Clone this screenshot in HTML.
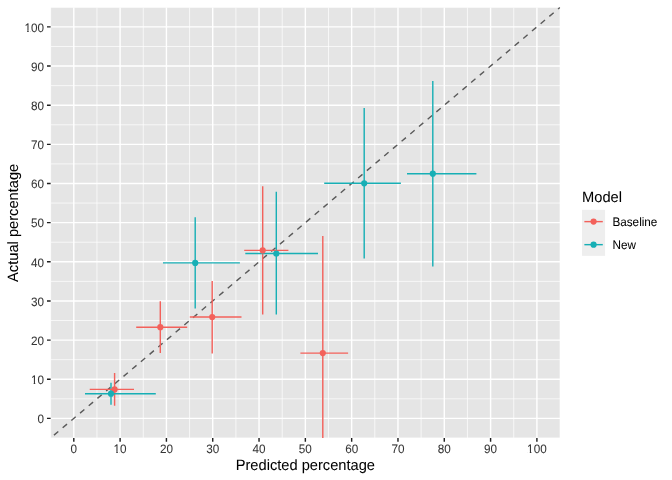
<!DOCTYPE html><html><head><meta charset="utf-8"><style>html,body{margin:0;padding:0;background:#fff;}svg{display:block;will-change:transform;}text{font-family:"Liberation Sans",sans-serif;text-rendering:geometricPrecision;}</style></head><body>
<svg width="672" height="480" viewBox="0 0 672 480">
<rect x="0" y="0" width="672" height="480" fill="#FFFFFF"/>
<defs><clipPath id="pc"><rect x="50.64" y="7.32" width="509.41" height="430.65"/></clipPath></defs>
<g clip-path="url(#pc)">
<rect x="50.64" y="7.32" width="509.41" height="430.65" fill="#E5E5E5"/>
<path d="M50.64 437.97H560.05M50.64 7.32V437.97M50.64 398.82H560.05M96.95 7.32V437.97M50.64 359.67H560.05M143.26 7.32V437.97M50.64 320.52H560.05M189.57 7.32V437.97M50.64 281.38H560.05M235.88 7.32V437.97M50.64 242.22H560.05M282.19 7.32V437.97M50.64 203.07H560.05M328.50 7.32V437.97M50.64 163.92H560.05M374.81 7.32V437.97M50.64 124.77H560.05M421.13 7.32V437.97M50.64 85.62H560.05M467.44 7.32V437.97M50.64 46.47H560.05M513.75 7.32V437.97M50.64 7.32H560.05M560.05 7.32V437.97" stroke="#FFFFFF" stroke-width="0.71" fill="none"/>
<path d="M50.64 418.40H560.05M73.80 7.32V437.97M50.64 379.25H560.05M120.11 7.32V437.97M50.64 340.10H560.05M166.42 7.32V437.97M50.64 300.95H560.05M212.73 7.32V437.97M50.64 261.80H560.05M259.04 7.32V437.97M50.64 222.65H560.05M305.35 7.32V437.97M50.64 183.50H560.05M351.66 7.32V437.97M50.64 144.35H560.05M397.97 7.32V437.97M50.64 105.20H560.05M444.28 7.32V437.97M50.64 66.05H560.05M490.59 7.32V437.97M50.64 26.90H560.05M536.90 7.32V437.97" stroke="#FFFFFF" stroke-width="1.42" fill="none"/>
<path d="M-458.77 868.62L1069.47 -423.33" stroke="#5A5A5A" stroke-width="1.42" stroke-dasharray="5.69 5.69" fill="none"/>
<path d="M114.60 372.90V405.70M160.30 301.30V353.00M212.20 280.90V353.50M262.70 186.30V314.60M322.80 236.00V470.00" stroke="#F3615B" stroke-width="1.42" fill="none"/>
<path d="M111.00 382.80V404.70M195.20 217.30V308.50M276.30 191.80V314.60M364.20 108.10V258.40M432.80 81.10V266.40" stroke="#17AFB5" stroke-width="1.42" fill="none"/>
<path d="M89.70 389.40H134.00M136.20 327.20H187.20M189.80 317.00H241.50M244.20 250.40H288.40M300.40 353.10H348.10" stroke="#F3615B" stroke-width="1.42" fill="none"/>
<path d="M85.00 393.70H155.80M163.00 262.90H239.90M245.30 253.50H318.00M324.20 183.30H400.90M407.00 173.70H476.40" stroke="#17AFB5" stroke-width="1.42" fill="none"/>
<circle cx="114.60" cy="389.40" r="3.1" fill="#F3615B"/>
<circle cx="160.30" cy="327.20" r="3.1" fill="#F3615B"/>
<circle cx="212.20" cy="317.00" r="3.1" fill="#F3615B"/>
<circle cx="262.70" cy="250.40" r="3.1" fill="#F3615B"/>
<circle cx="322.80" cy="353.10" r="3.1" fill="#F3615B"/>
<circle cx="111.00" cy="393.70" r="3.1" fill="#17AFB5"/>
<circle cx="195.20" cy="262.90" r="3.1" fill="#17AFB5"/>
<circle cx="276.30" cy="253.50" r="3.1" fill="#17AFB5"/>
<circle cx="364.20" cy="183.30" r="3.1" fill="#17AFB5"/>
<circle cx="432.80" cy="173.70" r="3.1" fill="#17AFB5"/>
</g>
<path d="M46.97 418.40H50.64M73.80 437.97V441.64M46.97 379.25H50.64M120.11 437.97V441.64M46.97 340.10H50.64M166.42 437.97V441.64M46.97 300.95H50.64M212.73 437.97V441.64M46.97 261.80H50.64M259.04 437.97V441.64M46.97 222.65H50.64M305.35 437.97V441.64M46.97 183.50H50.64M351.66 437.97V441.64M46.97 144.35H50.64M397.97 437.97V441.64M46.97 105.20H50.64M444.28 437.97V441.64M46.97 66.05H50.64M490.59 437.97V441.64M46.97 26.90H50.64M536.90 437.97V441.64" stroke="#1F1F1F" stroke-width="1.42" fill="none"/>
<text transform="translate(44.04 423.20) scale(1 1.04)" font-size="11.73" fill="#363636" stroke="#363636" stroke-width="0.04" text-anchor="end">0</text>
<text transform="translate(73.80 453.00) scale(1 1.04)" font-size="11.73" fill="#363636" stroke="#363636" stroke-width="0.04" text-anchor="middle">0</text>
<text transform="translate(44.04 384.05) scale(1 1.04)" font-size="11.73" fill="#363636" stroke="#363636" stroke-width="0.04" text-anchor="end">10</text>
<text transform="translate(120.11 453.00) scale(1 1.04)" font-size="11.73" fill="#363636" stroke="#363636" stroke-width="0.04" text-anchor="middle">10</text>
<text transform="translate(44.04 344.90) scale(1 1.04)" font-size="11.73" fill="#363636" stroke="#363636" stroke-width="0.04" text-anchor="end">20</text>
<text transform="translate(166.42 453.00) scale(1 1.04)" font-size="11.73" fill="#363636" stroke="#363636" stroke-width="0.04" text-anchor="middle">20</text>
<text transform="translate(44.04 305.75) scale(1 1.04)" font-size="11.73" fill="#363636" stroke="#363636" stroke-width="0.04" text-anchor="end">30</text>
<text transform="translate(212.73 453.00) scale(1 1.04)" font-size="11.73" fill="#363636" stroke="#363636" stroke-width="0.04" text-anchor="middle">30</text>
<text transform="translate(44.04 266.60) scale(1 1.04)" font-size="11.73" fill="#363636" stroke="#363636" stroke-width="0.04" text-anchor="end">40</text>
<text transform="translate(259.04 453.00) scale(1 1.04)" font-size="11.73" fill="#363636" stroke="#363636" stroke-width="0.04" text-anchor="middle">40</text>
<text transform="translate(44.04 227.45) scale(1 1.04)" font-size="11.73" fill="#363636" stroke="#363636" stroke-width="0.04" text-anchor="end">50</text>
<text transform="translate(305.35 453.00) scale(1 1.04)" font-size="11.73" fill="#363636" stroke="#363636" stroke-width="0.04" text-anchor="middle">50</text>
<text transform="translate(44.04 188.30) scale(1 1.04)" font-size="11.73" fill="#363636" stroke="#363636" stroke-width="0.04" text-anchor="end">60</text>
<text transform="translate(351.66 453.00) scale(1 1.04)" font-size="11.73" fill="#363636" stroke="#363636" stroke-width="0.04" text-anchor="middle">60</text>
<text transform="translate(44.04 149.15) scale(1 1.04)" font-size="11.73" fill="#363636" stroke="#363636" stroke-width="0.04" text-anchor="end">70</text>
<text transform="translate(397.97 453.00) scale(1 1.04)" font-size="11.73" fill="#363636" stroke="#363636" stroke-width="0.04" text-anchor="middle">70</text>
<text transform="translate(44.04 110.00) scale(1 1.04)" font-size="11.73" fill="#363636" stroke="#363636" stroke-width="0.04" text-anchor="end">80</text>
<text transform="translate(444.28 453.00) scale(1 1.04)" font-size="11.73" fill="#363636" stroke="#363636" stroke-width="0.04" text-anchor="middle">80</text>
<text transform="translate(44.04 70.85) scale(1 1.04)" font-size="11.73" fill="#363636" stroke="#363636" stroke-width="0.04" text-anchor="end">90</text>
<text transform="translate(490.59 453.00) scale(1 1.04)" font-size="11.73" fill="#363636" stroke="#363636" stroke-width="0.04" text-anchor="middle">90</text>
<text transform="translate(44.04 31.70) scale(1 1.04)" font-size="11.73" fill="#363636" stroke="#363636" stroke-width="0.04" text-anchor="end">100</text>
<text transform="translate(536.90 453.00) scale(1 1.04)" font-size="11.73" fill="#363636" stroke="#363636" stroke-width="0.04" text-anchor="middle">100</text>
<rect x="31.17" y="382.69" width="2.52" height="2.06" fill="#FFFFFF"/>
<rect x="35.24" y="382.69" width="1.92" height="2.06" fill="#FFFFFF"/>
<rect x="113.76" y="451.64" width="2.52" height="2.06" fill="#FFFFFF"/>
<rect x="117.82" y="451.64" width="1.92" height="2.06" fill="#FFFFFF"/>
<rect x="24.65" y="30.34" width="2.52" height="2.06" fill="#FFFFFF"/>
<rect x="28.71" y="30.34" width="1.92" height="2.06" fill="#FFFFFF"/>
<rect x="527.29" y="451.64" width="2.52" height="2.06" fill="#FFFFFF"/>
<rect x="531.35" y="451.64" width="1.92" height="2.06" fill="#FFFFFF"/>
<text transform="translate(305.35 469.80) scale(1 1.02)" font-size="14.67" fill="#000" stroke="#000" stroke-width="0.04" text-anchor="middle">Predicted percentage</text>
<text transform="translate(17.80 222.85) rotate(-90) scale(1 1.02)" font-size="14.67" fill="#000" stroke="#000" stroke-width="0.04" text-anchor="middle">Actual percentage</text>
<text transform="translate(582.06 201.80) scale(1 1.02)" font-size="14.67" fill="#000" stroke="#000" stroke-width="0.04" text-anchor="start">Model</text>
<rect x="582.06" y="209.80" width="23.04" height="46.08" fill="#EEEEEE"/>
<path d="M584.36 221.62H602.80" stroke="#F3615B" stroke-width="1.42" fill="none"/>
<circle cx="593.58" cy="221.62" r="3.1" fill="#F3615B"/>
<text transform="translate(612.43 226.12) scale(1 1.04)" font-size="11.73" fill="#000" stroke="#000" stroke-width="0.04" text-anchor="start">Baseline</text>
<path d="M584.36 244.66H602.80" stroke="#17AFB5" stroke-width="1.42" fill="none"/>
<circle cx="593.58" cy="244.66" r="3.1" fill="#17AFB5"/>
<text transform="translate(612.43 249.16) scale(1 1.04)" font-size="11.73" fill="#000" stroke="#000" stroke-width="0.04" text-anchor="start">New</text>
</svg></body></html>
